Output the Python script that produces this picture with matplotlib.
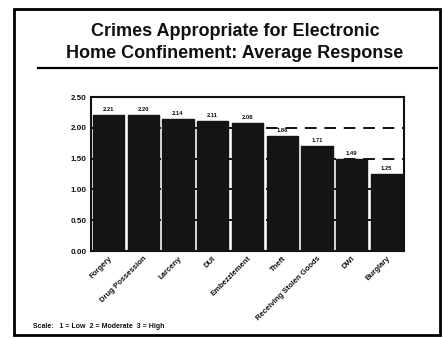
import matplotlib
matplotlib.use("Agg")
import matplotlib.pyplot as plt
from matplotlib.patches import Rectangle
from matplotlib.lines import Line2D

# Average response per crime type (1 = Low, 2 = Moderate, 3 = High)
crimes = ["Forgery", "Drug Possession", "Larceny", "DUI", "Embezzlement",
          "Theft", "Receiving Stolen Goods", "DWI", "Burglary"]
averages = [2.21, 2.20, 2.14, 2.11, 2.08, 1.86, 1.71, 1.49, 1.25]
value_labels = ["2.21", "2.20", "2.14", "2.11", "2.08", "1.86", "1.71", "1.49", "1.25"]
y_ticks = [0.0, 0.5, 1.0, 1.5, 2.0, 2.5]
y_tick_labels = ["0.00", "0.50", "1.00", "1.50", "2.00", "2.50"]

title_lines = ["Crimes Appropriate for Electronic",
               "Home Confinement: Average Response"]
scale_note = "Scale:   1 = Low  2 = Moderate  3 = High"

W, H = 445, 338
fig = plt.figure(figsize=(W / 100, H / 100), dpi=100)
fig.patch.set_facecolor("white")
font = ["Liberation Sans", "DejaVu Sans"]

# Outer frame of the panel
fig.add_artist(Rectangle((14 / W, 3 / H), 426 / W, 326 / H, transform=fig.transFigure,
                         fill=False, edgecolor="black", linewidth=2.0))

# Title block with rule underneath
title_x = 235 / W
fig.text(title_x, 1 - 32 / H, title_lines[0], ha="center", va="center",
         fontsize=13, fontweight="bold", family=font, color="#111111")
fig.text(title_x, 1 - 54 / H, title_lines[1], ha="center", va="center",
         fontsize=13, fontweight="bold", family=font, color="#111111")
fig.add_artist(Line2D([38 / W, 437 / W], [1 - 68 / H, 1 - 68 / H],
                      transform=fig.transFigure, color="black", linewidth=1.6))

ax = fig.add_axes([91 / W, 1 - 251 / H, 313 / W, 154 / H])
x = list(range(len(crimes)))
ax.bar(x, averages, width=0.9, color="#141414", edgecolor="#141414", zorder=3)
ax.set_xlim(-0.5, len(crimes) - 0.5)
ax.set_ylim(0, 2.5)

for yv in y_ticks[1:-1]:
    ax.axhline(yv, color="#111111", linewidth=1.4, linestyle=(0, (6, 4)), zorder=1)

for xi, v, lab in zip(x, averages, value_labels):
    ax.text(xi, v + 0.05, lab, ha="center", va="bottom", fontsize=4.2,
            fontweight="bold", family=font, color="#111111")

ax.set_yticks(y_ticks)
ax.set_yticklabels(y_tick_labels, fontsize=5.8, fontweight="bold", family=font)
ax.set_xticks(x)
ax.set_xticklabels(crimes, rotation=45, ha="right", rotation_mode="anchor",
                   fontsize=5.5, fontweight="bold", family=font)
ax.tick_params(axis="both", length=0, pad=3, colors="#111111")
for side in ["left", "right", "top", "bottom"]:
    ax.spines[side].set_color("#111111")
    ax.spines[side].set_linewidth(1.5)

fig.text(33 / W, 1 - 327 / H, scale_note, ha="left", va="center",
         fontsize=5, fontweight="bold", family=font, color="#111111")

fig.savefig("out.png", dpi=100, facecolor="white")
